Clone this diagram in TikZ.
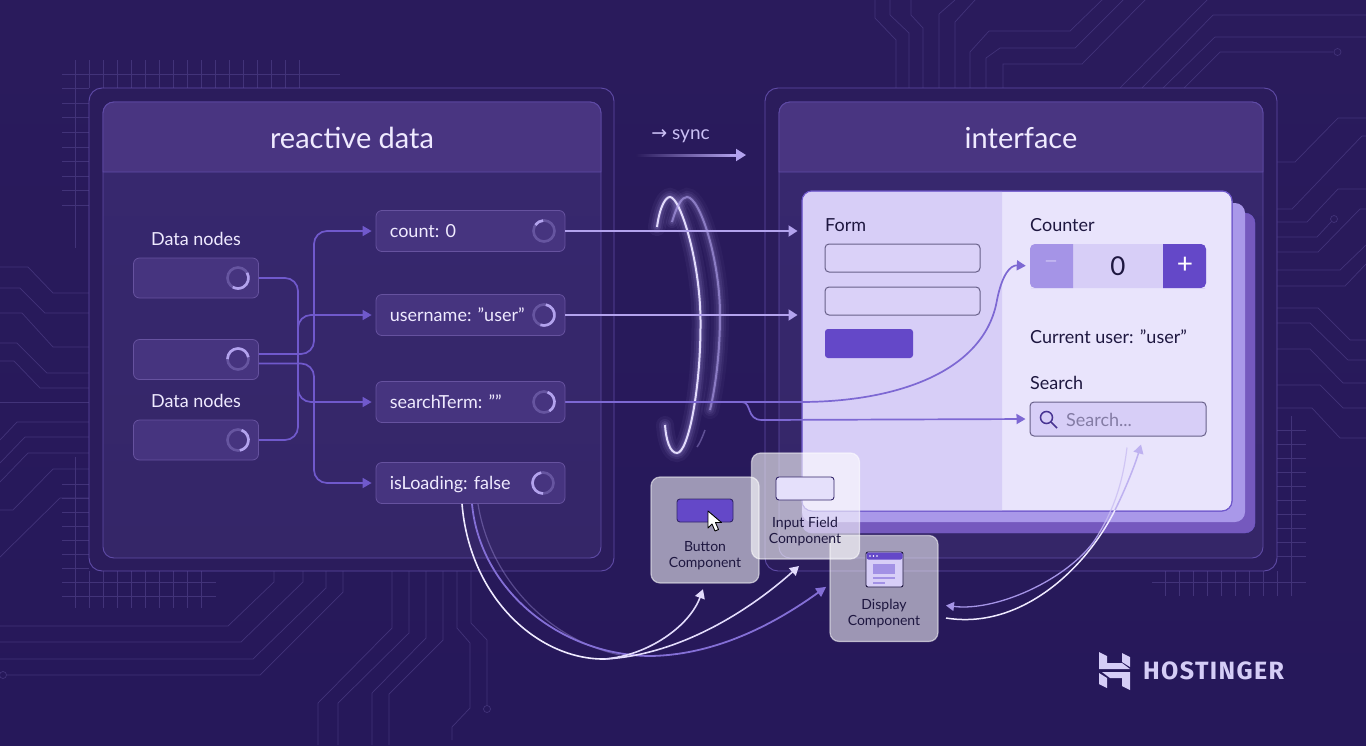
\documentclass[tikz,border=0pt]{standalone}
\usepackage{fontspec}
\setmainfont{Lato}
\newfontfamily\arrowfont{DejaVu Sans}
\newfontfamily\logofont[LetterSpace=5.5]{Fira Sans}
\usetikzlibrary{arrows.meta,positioning,calc}

\definecolor{bgtop}{HTML}{2A1B5C}
\definecolor{bgbot}{HTML}{26185A}
\definecolor{circuit}{HTML}{423379}
\definecolor{panelline}{HTML}{5F4BA6}
\definecolor{outerfill}{HTML}{2B1C5C}
\definecolor{bodytop}{HTML}{37286F}
\definecolor{bodybot}{HTML}{352668}
\definecolor{headfill}{HTML}{493581}
\definecolor{boxfill}{HTML}{46347F}
\definecolor{boxline}{HTML}{66529F}
\definecolor{wire}{HTML}{7059CC}
\definecolor{lilac}{HTML}{B3A3EE}
\definecolor{pale}{HTML}{EFEAFF}
\definecolor{cardleft}{HTML}{D7CEF7}
\definecolor{cardright}{HTML}{E9E4FC}
\definecolor{cardback}{HTML}{7559BE}
\definecolor{deep}{HTML}{6448C8}
\definecolor{inktext}{HTML}{1E1740}

\tikzset{
    bgline/.style={circuit, line width=0.7pt},
    gridline/.style={circuit, line width=0.7pt},
    outerpanel/.style={draw=panelline, fill=outerfill, line width=0.9pt, rounded corners=13pt, minimum width=#1, minimum height=483pt, inner sep=0pt},
    innerpanel/.style={draw=panelline, top color=bodytop, bottom color=bodybot, line width=0.9pt, rounded corners=11pt, minimum width=#1, minimum height=456pt, inner sep=0pt},
    headtext/.style={text=pale, font=\fontsize{29}{32}\selectfont, inner sep=0pt},
    databox/.style={draw=boxline, fill=boxfill, line width=0.8pt, rounded corners=6pt, minimum width=125pt, minimum height=40pt, inner sep=0pt},
    statebox/.style={draw=boxline, fill=boxfill, line width=0.8pt, rounded corners=6pt, minimum width=189pt, minimum height=41pt, inner sep=0pt},
    darklabel/.style={text=pale, font=\fontsize{18}{21}\selectfont, inner sep=0pt, text height=16pt, text depth=3pt},
    cardlabel/.style={text=inktext, font=\fontsize{18}{21}\selectfont, inner sep=0pt, anchor=west, text height=16pt, text depth=3pt},
    formfield/.style={draw=inktext!60!cardleft, fill=cardleft!85!cardright, line width=1pt, rounded corners=4pt, inner sep=0pt},
    compbox/.style={draw=white, draw opacity=0.55, fill=white, fill opacity=#1, line width=1.2pt, rounded corners=9pt, minimum width=108pt, minimum height=106pt, inner sep=0pt},
    comptext/.style={text=inktext, font=\fontsize{14}{16}\selectfont, align=center, inner sep=0pt},
    wireline/.style={wire, line width=1.7pt, rounded corners=13pt},
    syncline/.style={lilac, line width=2pt},
    tip/.style={-{Triangle[length=9pt,width=10pt]}, shorten >=#1},
    spintrack/.style={lilac, opacity=0.3, line width=2.6pt},
    spinarc/.style={lilac, line width=2.6pt}
}

\newcommand{\ringA}{(657,227) .. controls (660,205) and (666,197) .. (670,197) .. controls (680,197) and (700,260) .. (700.5,320) .. controls (701,390) and (688,453) .. (677,453) .. controls (670,453) and (666,440) .. (665,425)}
\newcommand{\ringB}{(672,222) .. controls (677,205) and (682,197) .. (687,197) .. controls (700,197) and (720,260) .. (720,315) .. controls (720,350) and (716,385) .. (710,410)}

\begin{document}
\begin{tikzpicture}[x=1pt,y=-1pt]
    \useasboundingbox (0,0) rectangle (1366,745);
    \clip (0,0) rectangle (1366,745);

    % Draw the background
    \fill[top color=bgtop, bottom color=bgbot] (0,0) rectangle (1366,745);

    % Draw the circuit traces, top
    \draw[bgline] (875,0) -- (875,18) -- (896,40) -- (896,88);
    \draw[bgline] (890,0) -- (890,15) -- (909,33) -- (909,88);
    \draw[bgline] (911,0) -- (911,15) -- (923,28) -- (923,88);
    \draw[bgline] (955,0) -- (939,14) -- (939,88);
    \draw[bgline] (975,0) -- (955,22) -- (955,88);
    \draw[bgline] (970,88) -- (970,52) -- (989,31) -- (1070,31) -- (1102,0);
    \draw[bgline] (986,88) -- (986,58) -- (1000,48) -- (1075,48) -- (1123,0);
    \draw[bgline] (1003,88) -- (1003,64) -- (1082,64) -- (1145,0);
    \draw[bgline] (1120,88) -- (1207,0);
    \draw[bgline] (1142,88) -- (1213,15) -- (1366,15);
    \draw[bgline] (1163,88) -- (1215,37) -- (1366,37);
    \draw[bgline] (1184,88) -- (1220,52) -- (1333,52);
    \draw[bgline] (1337.5,52) circle (3.5);

    % Draw the circuit traces, right
    \draw[bgline] (1277,162) -- (1295,162) -- (1338,118) -- (1366,118);
    \draw[bgline] (1277,209) -- (1292,209) -- (1362,136) -- (1366,136);
    \draw[bgline] (1277,222) -- (1307,222) -- (1338,189) -- (1366,189);
    \draw[bgline] (1277,237) -- (1317,237) -- (1331,222);
    \draw[bgline] (1334,219) circle (3.5);
    \draw[bgline] (1277,252) -- (1318,252) -- (1360,209) -- (1366,209);
    \draw[bgline] (1277,270) -- (1340,270) -- (1366,245);
    \draw[bgline] (1277,286) -- (1345,286) -- (1366,264);
    \draw[bgline] (1277,308) -- (1318,308) -- (1350,340) -- (1366,340);
    \draw[bgline] (1277,323) -- (1310,323) -- (1348,360) -- (1366,360);
    \draw[bgline] (1277,349) -- (1310,349) -- (1343,383) -- (1366,383);
    \draw[bgline] (1277,385) -- (1320,385) -- (1343,408) -- (1366,408);
    \draw[bgline] (1277,408) -- (1312,408) -- (1340,438) -- (1366,438);

    % Draw the circuit traces, left
    \draw[bgline] (0,267) -- (28,267) -- (53,293) -- (89,293);
    \draw[bgline] (0,288) -- (20,288) -- (45,313) -- (89,313);
    \draw[bgline] (0,313) -- (22,313) -- (53,347) -- (89,347);
    \draw[bgline] (0,343) -- (17,343) -- (47,373) -- (89,373);
    \draw[bgline] (0,361) -- (14,361) -- (40,388) -- (89,388);
    \draw[bgline] (0,402) -- (89,402);
    \draw[bgline] (0,440) -- (17,422) -- (89,422);
    \draw[bgline] (0,463) -- (25,437) -- (89,437);
    \draw[bgline] (0,482) -- (28,453) -- (89,453);
    \draw[bgline] (0,510) -- (13,510) -- (53,469) -- (89,469);
    \draw[bgline] (0,557) -- (60,498) -- (89,498);

    % Draw the circuit traces, bottom
    \draw[bgline] (274,571) -- (274,582) -- (228,626) -- (0,626);
    \draw[bgline] (303,571) -- (303,582) -- (241,642) -- (0,642);
    \draw[bgline] (326,571) -- (326,588) -- (253,659) -- (0,659);
    \draw[bgline] (343,571) -- (343,592) -- (260,675) -- (7,675);
    \draw[bgline] (3,675) circle (3.5);
    \draw[bgline] (392,571) -- (392,628) -- (318,703) -- (318,745);
    \draw[bgline] (409,571) -- (409,633) -- (338,703) -- (338,745);
    \draw[bgline] (426,571) -- (426,638) -- (372,693) -- (372,745);
    \draw[bgline] (443,571) -- (443,640) -- (389,694) -- (389,745);
    \draw[bgline] (457,571) -- (457,628) -- (470,643) -- (470,708) -- (452,727) -- (452,740);
    \draw[bgline] (471,571) -- (471,623) -- (487,640) -- (487,705);
    \draw[bgline] (487,709) circle (3.5);

    % Draw the grids
    \foreach \gx in {75,89,...,306} {\draw[gridline] (\gx,60) -- (\gx,88);}
    \foreach \gy in {74,88.6,...,206} {\draw[gridline] (62,\gy) -- (89,\gy);}
    \draw[gridline] (89,74) -- (340,74);
    \draw[gridline] (75,88) -- (75,248);
    \foreach \gx in {75,89,...,202} {\draw[gridline] (\gx,571) -- (\gx,608);}
    \foreach \gy in {484,498,...,569} {\draw[gridline] (62,\gy) -- (89,\gy);}
    \foreach \gy in {582,596} {\draw[gridline] (62,\gy) -- (216,\gy);}
    \draw[gridline] (75,457) -- (75,571);
    \foreach \gx in {1165,1179,...,1292} {\draw[gridline] (\gx,571) -- (\gx,596);}
    \foreach \gy in {430,444,...,569} {\draw[gridline] (1277,\gy) -- (1306,\gy);}
    \draw[gridline] (1152,582) -- (1306,582);
    \draw[gridline] (1291,416) -- (1291,571);

    % Draw the panels
    \node[outerpanel=525pt] (dataouter) at (351.5,329.5) {};
    \node[outerpanel=512pt] (uiouter) at (1021,329.5) {};
    \node[innerpanel=498pt] (databody) at (352,330) {};
    \node[innerpanel=484pt] (uibody) at (1021,330) {};

    % Draw the panel headers
    \draw[draw=panelline, fill=headfill, line width=0.9pt] (103,172) [rounded corners=11pt] -- (103,102) -- (601,102) -- (601,125) [sharp corners] -- (601,172) -- cycle;
    \draw[draw=panelline, fill=headfill, line width=0.9pt] (779,172) [rounded corners=11pt] -- (779,102) -- (1263,102) -- (1263,125) [sharp corners] -- (1263,172) -- cycle;
    \node[headtext] (datatitle) at (352,138) {reactive data};
    \node[headtext] (uititle) at (1021,138) {interface};

    % Draw the sync label and arrow
    \node[darklabel, text=lilac!60!pale, font=\fontsize{19}{21}\selectfont] (synclabel) at (680.5,133) {{\arrowfont →}\ sync};
    \coordinate (syncstart) at (636,155);
    \coordinate (syncend) at (746,155);
    \shade[left color=bgtop, right color=lilac] (636,154) rectangle (737,156);
    \draw[-{Triangle[length=10pt,width=12pt]}, lilac, line width=2pt] (730,155) -- (syncend);

    % Draw the data nodes
    \node[darklabel] (datalabela) at (196,239) {Data nodes};
    \node[databox] (dna) at (196,278) {};
    \node[databox] (dnb) at (196,359.5) {};
    \node[darklabel] (datalabelb) at (196,401) {Data nodes};
    \node[databox] (dnc) at (196,440) {};

    % Draw the state boxes
    \node[statebox] (countbox) at (470.5,231) {};
    \node[statebox] (userbox) at (470.5,315) {};
    \node[statebox] (termbox) at (470.5,402) {};
    \node[statebox] (loadbox) at (470.5,483) {};
    \node[darklabel, right=14pt of countbox.west] (countlabel) {count: 0};
    \node[darklabel, right=14pt of userbox.west] (userlabel) {username: "user"};
    \node[darklabel, right=14pt of termbox.west] (termlabel) {searchTerm: ""};
    \node[darklabel, right=14pt of loadbox.west] (loadlabel) {isLoading: false};

    % Draw the spinners
    \foreach \cx/\cy/\st/\dl in {238/278/-30/150, 238/359/180/170, 238/440/-70/150, 544/231/215/50, 544/315/-80/190, 544/402/-70/130, 543/483/90/170} {
        \draw[spintrack] (\cx,\cy) circle (10.5);
        \draw[spinarc] ([shift={(\st:10.5)}]\cx,\cy) arc (\st:\st+\dl:10.5);
    }

    % Draw the stacked card
    \node[draw=wire, fill=cardback, rounded corners=10pt, minimum width=453pt, minimum height=320pt, inner sep=0pt] (cardc) at (1028.5,373) {};
    \node[fill=lilac!85!wire, rounded corners=10pt, minimum width=443pt, minimum height=319pt, inner sep=0pt] (cardb) at (1023.5,362.5) {};
    \node[draw=wire, fill=cardright, rounded corners=10pt, line width=1pt, minimum width=430pt, minimum height=320pt, inner sep=0pt] (card) at (1017,351) {};
    \fill[cardleft] (1002,191.5) -- (812,191.5) [rounded corners=10pt] -- (802.5,191.5) -- (802.5,510.5) -- (812,510.5) [sharp corners] -- (1002,510.5) -- cycle;
    \draw[wire, line width=1pt, rounded corners=10pt] (802,191) rectangle (1232,511);

    % Draw the form
    \node[cardlabel] (formlabel) at (825,225) {Form};
    \node[formfield, minimum width=155pt, minimum height=28pt] (fielda) at (902.5,258) {};
    \node[formfield, minimum width=155pt, minimum height=28pt] (fieldb) at (902.5,301) {};
    \node[fill=deep, rounded corners=3pt, minimum width=88pt, minimum height=29pt, inner sep=0pt] (formbutton) at (869,343.5) {};

    % Draw the counter
    \node[cardlabel] (counterlabel) at (1030,225) {Counter};
    \node[fill=cardleft, rounded corners=5pt, minimum width=176pt, minimum height=44pt, inner sep=0pt] (counter) at (1118,266) {};
    \fill[lilac!80!wire] (1073,244) -- (1036,244) [rounded corners=5pt] -- (1030,244) -- (1030,288) -- (1036,288) [sharp corners] -- (1073,288) -- cycle;
    \fill[deep] (1163,244) -- (1200,244) [rounded corners=5pt] -- (1206,244) -- (1206,288) -- (1200,288) [sharp corners] -- (1163,288) -- cycle;
    \node[text=lilac!75!white, font=\fontsize{24}{24}\selectfont, inner sep=0pt] (minuslabel) at (1051,265) {−};
    \node[text=inktext, font=\fontsize{26}{26}\selectfont, inner sep=0pt] (zerolabel) at (1118,266) {0};
    \node[text=white, font=\fontsize{28}{28}\selectfont, inner sep=0pt] (pluslabel) at (1185,265) {+};

    % Draw the user and search rows
    \node[cardlabel] (currentlabel) at (1030,337) {Current user: "user"};
    \node[cardlabel] (searchlabel) at (1030,383) {Search};
    \node[formfield, fill=cardleft, minimum width=176pt, minimum height=34pt] (searchfield) at (1118,419) {};
    \draw[inktext!40!deep, line width=1.5pt] (1046.5,417.5) circle (6);
    \draw[inktext!40!deep, line width=1.5pt] (1051,422) -- (1057,428);
    \node[cardlabel, text=inktext!45!cardleft] (searchhint) at (1066,419.5) {Search...};

    % Draw the ring
    \foreach \w/\op in {18/.06,12/.09,8/.12,4/.16} {
        \draw[lilac, line width=\w pt, opacity=\op, line cap=round] \ringA;
        \draw[lilac, line width=\w pt, opacity=\op*0.8, line cap=round] \ringB;
    }
    \draw[pale!80!lilac, line width=2pt] \ringA;
    \draw[lilac, opacity=0.6, line width=2pt] \ringB;
    \draw[lilac, opacity=0.4, line width=1.5pt] (705,430) .. controls (702,438) and (700,443) .. (697,447);

    % Draw the wires from the data nodes
    \draw[wireline] (dna.east) -- (298,278) -- (298,440) -- (dnc.east);
    \draw[wireline, tip=4pt] ([yshift=5.5pt]dnb.east) -- (314,354) -- (314,231) -- (countbox.west);
    \draw[wireline, tip=4pt] ([yshift=-4pt]dnb.east) -- (314,363.5) -- (314,483) -- (loadbox.west);
    \coordinate (busup) at (298,340);
    \coordinate (busdown) at (298,380);
    \draw[wireline, tip=4pt] (busup) -- (298,315) -- (userbox.west);
    \draw[wireline, tip=4pt] (busdown) -- (298,402) -- (termbox.west);

    % Draw the sync wires to the card
    \draw[syncline, -{Triangle[length=9pt,width=11pt]}, shorten >=4pt] (countbox.east) -- (card.west |- countbox.east);
    \draw[syncline, -{Triangle[length=9pt,width=11pt]}, shorten >=4pt] (userbox.east) -- (card.west |- userbox.east);
    \draw[wire!80!lilac, line width=1.7pt, tip=4pt] (termbox.east) -- (742,402) .. controls (752,402) and (746,420) .. (762,420) -- (searchfield.west);
    \draw[wire!80!lilac, line width=1.7pt, tip=4pt] (termbox.east) -- (800,402) .. controls (900,402) and (985,370) .. (997,300) .. controls (1002,275) and (1010,265) .. (counter.west);

    % Draw the component cards
    \node[compbox=0.55] (compbutton) at (705,530) {};
    \node[compbox=0.55] (compdisplay) at (884,588.5) {};
    \node[compbox=0.6] (compinput) at (805.5,506) {};

    % Draw the curves from isLoading
    \draw[lilac, opacity=0.35, line width=1.2pt] ([xshift=7.5pt]loadbox.south) .. controls (490,580) and (550,640) .. (620,655);
    \draw[wire!70!lilac, line width=1.8pt, -{Triangle[length=10pt,width=10pt]}, shorten >=4pt] ([xshift=1.5pt]loadbox.south) .. controls (480,590) and (560,655) .. (650,656) .. controls (720,655) and (780,620) .. ([yshift=4pt]compdisplay.west);
    \draw[pale, line width=1.6pt] ([xshift=-8.5pt]loadbox.south) .. controls (470,600) and (540,660) .. (605,659);
    \coordinate (curvefork) at (605,659);
    \coordinate (inputtip) at (799,566);
    \draw[pale!80!lilac, line width=1.6pt, -{Triangle[length=9pt,width=10pt]}, shorten >=6pt] (curvefork) .. controls (650,655) and (690,625) .. (compbutton.south);
    \draw[pale!80!lilac, line width=1.6pt, -{Triangle[length=9pt,width=10pt]}] (curvefork) .. controls (680,655) and (750,610) .. (inputtip);

    % Draw the button icon
    \node[draw=inktext!70!deep, fill=deep, line width=0.9pt, rounded corners=3pt, minimum width=56pt, minimum height=23pt, inner sep=0pt] (btnicon) at (705,510.5) {};
    \filldraw[fill=white, draw=black, line width=0.9pt, line join=round] (708,511) -- ++(0,17) -- ++(4,-4) -- ++(3,7) -- ++(3.5,-1.5) -- ++(-3,-7) -- ++(6,0) -- cycle;
    \node[comptext] (btntext) at (705,556) {Button\\Component};

    % Draw the input icon
    \node[draw=inktext!70!deep, fill=cardright!80!cardleft, line width=0.9pt, rounded corners=3pt, minimum width=58pt, minimum height=23pt, inner sep=0pt] (inputicon) at (805,488.5) {};
    \node[comptext] (inputtext) at (805,532) {Input Field\\Component};

    % Draw the display icon
    \node[draw=inktext, fill=cardleft, line width=0.9pt, rounded corners=2pt, minimum width=37pt, minimum height=35pt, inner sep=0pt] (winicon) at (884.5,569.5) {};
    \fill[deep, rounded corners=2pt] (866.5,552.5) rectangle (902.5,559.5);
    \foreach \dx in {870,873.5,877} {\fill[white] (\dx,556) circle (0.9);}
    \fill[lilac!75!wire] (873,564) rectangle (895,574);
    \draw[lilac!75!wire, line width=1.2pt] (873,578) -- (895,578);
    \draw[lilac!75!wire, line width=1.2pt] (873,583) -- (885,583);
    \node[comptext] (displaytext) at (884,614) {Display\\Component};

    % Draw the curves back from the display
    \coordinate (displayout) at (946,618);
    \coordinate (displayin) at (946,605.5);
    \draw[pale, line width=1.5pt] (displayout) .. controls (1020,630) and (1085,570) .. (1115,510);
    \draw[lilac!85!white, line width=1.5pt, -{Triangle[length=9pt,width=10pt]}] (1115,510) .. controls (1125,490) and (1135,465) .. ([xshift=23pt,yshift=-8pt]searchfield.south);
    \draw[lilac!70!white, opacity=0.8, line width=1.2pt] ([xshift=9pt,yshift=-11pt]searchfield.south) .. controls (1122,490) and (1110,515) .. (1098,535);
    \draw[lilac!80!wire, line width=1.3pt, -{Triangle[length=8pt,width=9pt]}] (1098,535) .. controls (1075,575) and (1000,612) .. (displayin);

    % Draw the logo
    \fill[lilac!55!white] (1099,652) -- (1107,656) -- (1107,663) -- (1122,663) -- (1130,669) -- (1099,669) -- cycle;
    \fill[lilac!55!white] (1122,653) -- (1130,657) -- (1130,667) -- (1122,662) -- cycle;
    \fill[lilac!55!white] (1099,673) -- (1107,678) -- (1107,688) -- (1099,684) -- cycle;
    \fill[lilac!55!white] (1102,672) -- (1130,672) -- (1130,690) -- (1122,686) -- (1122,678) -- (1110,678) -- cycle;
    \node[text=lilac!55!white, font=\logofont\bfseries\fontsize{25}{25}\selectfont, inner sep=0pt, anchor=west] (logotext) at (1143,671) {HOSTINGER};
\end{tikzpicture}
\end{document}
